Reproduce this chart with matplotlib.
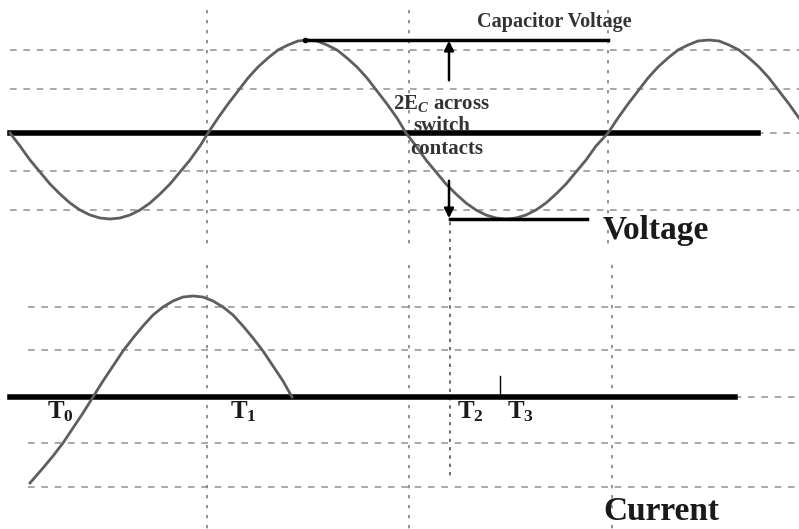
import matplotlib.pyplot as plt

# values (pixel coordinates, y grows downward)
volt_x = [10, 20, 30, 40, 50, 60, 70, 80, 90, 100, 110, 120, 130, 140, 150, 160, 170, 180, 190, 200,
          208, 218, 228, 238, 248, 258, 268, 278, 288, 298, 307, 317, 327, 337, 347, 357, 367, 377, 387, 397,
          406, 416, 426, 436, 446, 456, 466, 476, 486, 496, 506, 516, 526, 536, 546, 556, 566, 576, 586, 596,
          608, 618, 628, 638, 648, 658, 668, 678, 688, 698, 709, 719, 729, 739, 749, 759, 769, 779, 789, 799]
volt_y = [133, 146, 160, 172, 184, 194, 203, 210, 215, 218, 219, 218, 215, 210, 203, 194, 184, 172, 160, 146,
          133, 118, 104, 91, 78, 67, 58, 50, 45, 41, 40, 41, 45, 50, 58, 67, 78, 91, 104, 118,
          133, 146, 160, 172, 184, 194, 203, 210, 215, 218, 219, 218, 215, 210, 203, 194, 184, 172, 160, 146,
          133, 118, 104, 91, 78, 67, 58, 50, 45, 41, 40, 41, 45, 50, 58, 67, 78, 91, 104, 118]

curr_x = [30, 43, 53, 63, 73, 83, 93, 103, 113, 123, 133, 143, 153, 163, 173, 183, 193,
          203, 213, 223, 233, 243, 253, 263, 273, 283, 292]
curr_y = [483, 468, 456, 443, 428, 413, 397, 381, 366, 351, 338, 326, 315, 307, 301, 297, 296,
          297, 301, 307, 315, 326, 338, 351, 366, 381, 397]

upper_grid = [50, 89, 133, 171, 210]
lower_grid = [307, 350, 397, 443, 487]

t_labels = ["T$_0$", "T$_1$", "T$_2$", "T$_3$"]
t_pos = [(47, 412), (230, 412), (457, 412), (507, 412)]

plt.rcParams['font.family'] = ['Liberation Serif', 'DejaVu Serif']
plt.rcParams['mathtext.fontset'] = 'custom'
plt.rcParams['mathtext.rm'] = 'Liberation Serif:bold'
plt.rcParams['mathtext.it'] = 'Liberation Serif:italic:bold'
plt.rcParams['mathtext.bf'] = 'Liberation Serif:bold'

fig = plt.figure(figsize=(7.99, 5.29), dpi=100)
ax = fig.add_axes([0, 0, 1, 1])
ax.set_xlim(0, 799)
ax.set_ylim(529, 0)
ax.axis('off')

# dashed horizontal grid
for y in upper_grid:
    ax.plot([10, 799], [y, y], color='#9a9a9a', lw=1.2, ls=(0, (4, 4)))
for y in lower_grid:
    ax.plot([28, 799], [y, y], color='#9a9a9a', lw=1.2, ls=(0, (4, 4)))

# dotted verticals
for x in [207, 409, 608]:
    ax.plot([x, x], [10, 248], color='#808080', lw=1.2, ls=(0, (2, 4)))
for x in [207, 409, 612]:
    ax.plot([x, x], [265, 529], color='#808080', lw=1.2, ls=(0, (2, 4)))
ax.plot([450, 450], [222, 478], color='#555555', lw=1.2, ls=(0, (2, 3)))

# axes lines
ax.plot([10, 758], [133, 133], color='black', lw=4)
ax.plot([10, 735], [397, 397], color='black', lw=4)

# curves
ax.plot(volt_x, volt_y, color='#5e5e5e', lw=2)
ax.plot(curr_x, curr_y, color='#5e5e5e', lw=2)

# capacitor voltage markers
ax.plot([305, 608], [40, 40], color='black', lw=2.5)
ax.plot([305], [40], 'o', color='black', ms=3)
ax.plot([450, 587], [219, 219], color='black', lw=2.5)
ax.annotate('', xy=(449, 38), xytext=(449, 83),
            arrowprops=dict(arrowstyle='-|>', color='black', lw=1.8, mutation_scale=14))
ax.annotate('', xy=(449, 221), xytext=(449, 178),
            arrowprops=dict(arrowstyle='-|>', color='black', lw=1.8, mutation_scale=14))
ax.plot([500, 500], [376, 397], color='black', lw=1)

# text
ax.text(477, 22, "Capacitor Voltage", fontsize=14.5, fontweight='bold', color='#333333', va='center')
ax.text(393, 104, r"2E$_\mathit{C}$ across", fontsize=15, fontweight='bold', color='#333333', va='center')
ax.text(413, 126, "switch", fontsize=15, fontweight='bold', color='#333333', va='center')
ax.text(410, 149, "contacts", fontsize=15, fontweight='bold', color='#333333', va='center')
ax.text(603, 230, "Voltage", fontsize=24, fontweight='bold', color='#1a1a1a', va='center')
ax.text(603, 512, "Current", fontsize=24, fontweight='bold', color='#1a1a1a', va='center')
for lab, (x, y) in zip(t_labels, t_pos):
    ax.text(x, y, lab, fontsize=18, fontweight='bold', color='#1a1a1a', va='center')

fig.savefig('out.png', dpi=100)
